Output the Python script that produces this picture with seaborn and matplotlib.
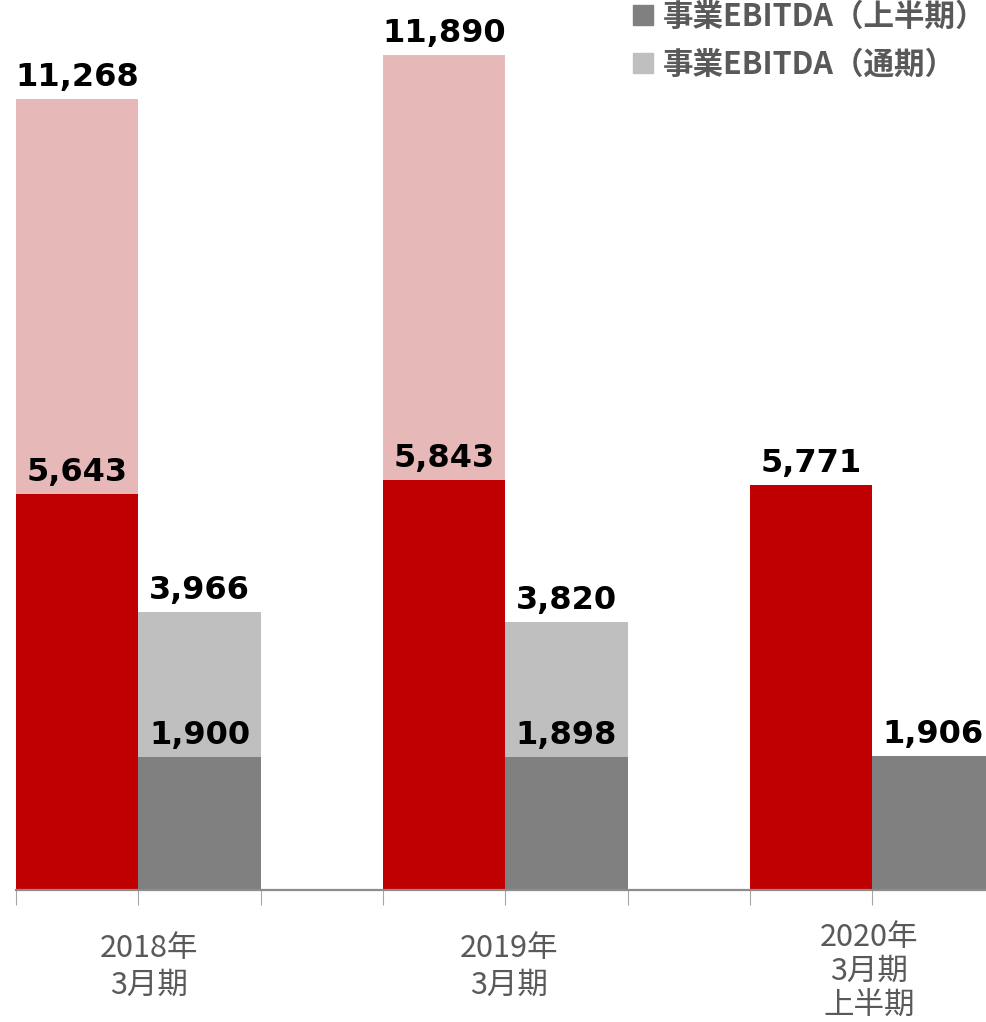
import numpy as np
import pandas as pd
import seaborn as sns
import matplotlib
matplotlib.use('Agg')
from matplotlib import pyplot as plt
from matplotlib.lines import Line2D
from matplotlib import transforms

# chart data
periods = ['2018年\n3月期', '2019年\n3月期', '2020年\n3月期\n上半期']
revenue_half = [5643, 5843, 5771]
revenue_full = [11268, 11890, None]
ebitda_half = [1900, 1898, 1906]
ebitda_full = [3966, 3820, None]
legend_labels = ['事業EBITDA（上半期）', '事業EBITDA（通期）']

palette_half = {'revenue': '#C00000', 'ebitda': '#808080'}
palette_full = {'revenue': '#E6B9B8', 'ebitda': '#BFBFBF'}

# build long tables: 3 slots per period (revenue, ebitda, gap)
rows_half, rows_full = [], []
for i in range(len(periods)):
    rows_half.append({'pos': i * 3, 'kind': 'revenue', 'value': revenue_half[i]})
    rows_half.append({'pos': i * 3 + 1, 'kind': 'ebitda', 'value': ebitda_half[i]})
    if revenue_full[i] is not None:
        rows_full.append({'pos': i * 3, 'kind': 'revenue', 'value': revenue_full[i]})
    if ebitda_full[i] is not None:
        rows_full.append({'pos': i * 3 + 1, 'kind': 'ebitda', 'value': ebitda_full[i]})
df_half = pd.DataFrame(rows_half)
df_full = pd.DataFrame(rows_full)

sns.set_style('white')
plt.rcParams['font.family'] = ['Noto Sans CJK JP', 'DejaVu Sans']

W, H = 986, 1022
fig = plt.figure(figsize=(W / 100, H / 100), dpi=100, facecolor='white')
ax = fig.add_axes([16 / W, 132 / H, 1 - 16 / W, 1 - 132 / H])

# full-year bars behind, half-year bars in front
sns.barplot(data=df_full, x='pos', y='value', hue='kind', palette=palette_full,
            native_scale=True, dodge=False, width=1, linewidth=0, saturation=1,
            legend=False, ax=ax)
sns.barplot(data=df_half, x='pos', y='value', hue='kind', palette=palette_half,
            native_scale=True, dodge=False, width=1, linewidth=0, saturation=1,
            legend=False, ax=ax)

slot_px = 122.3
ax.set_xlim(-0.5, -0.5 + (W - 16) / slot_px)
ax.set_ylim(0, 890 / 0.0702)

# value labels
lab_font = dict(family='DejaVu Sans', weight='bold', size=23, color='black')
for df in (df_full, df_half):
    for _, r in df.iterrows():
        ax.annotate('{:,}'.format(int(r['value'])), (r['pos'], r['value']),
                    xytext=(0, 13), textcoords='offset pixels',
                    ha='center', va='baseline', **lab_font)

# axes styling
for s in ['left', 'top', 'right']:
    ax.spines[s].set_visible(False)
ax.spines['bottom'].set_color('#8C8C8C')
ax.spines['bottom'].set_linewidth(1.6)
ax.set_yticks([])
ax.set_xticks(np.arange(-0.5, 7, 1.0))
ax.set_xticklabels([])
ax.tick_params(axis='x', direction='out', length=11, width=0.8, color='#A6A6A6', bottom=True)
ax.set_xlabel('')
ax.set_ylabel('')

# category labels
trans = transforms.blended_transform_factory(ax.transData, fig.transFigure)
label_x = [0.59, 3.53, 6.475]
label_tops = [1 - 933 / H, 1 - 933 / H, 1 - 922 / H]
label_spacing = [1.22, 1.22, 1.12]
for i, p in enumerate(periods):
    ax.text(label_x[i], label_tops[i], p, transform=trans, ha='center', va='top',
            fontsize=22, color='#595959', linespacing=label_spacing[i],
            family=['Noto Sans CJK JP', 'DejaVu Sans'])

# legend, tucked against the top edge
handles = [Line2D([], [], marker='s', linestyle='none', markersize=14.4, color='#808080'),
           Line2D([], [], marker='s', linestyle='none', markersize=14.4, color='#BFBFBF')]
fs = 22
fs_px = fs * 100 / 72
leg = fig.legend(handles, legend_labels, loc='upper left',
                 bbox_to_anchor=(632 / W, 1 - 1 / H), frameon=False,
                 prop=dict(family=['Noto Sans CJK JP', 'DejaVu Sans'], weight='bold', size=fs),
                 labelcolor='#595959', handlelength=0.7, handletextpad=9.7 / fs_px,
                 labelspacing=0.5, borderaxespad=0, borderpad=0)

fig.savefig('out.png', dpi=100, facecolor='white')
